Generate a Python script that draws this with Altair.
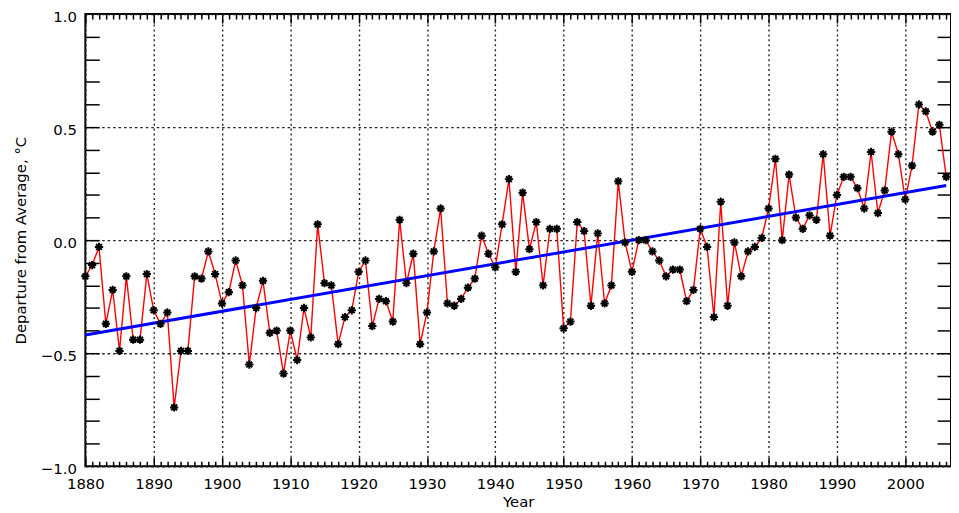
import altair as alt
import pandas as pd

# ---- data ----
years = list(range(1880, 2007))
anomaly = [
    -0.16, -0.11, -0.03, -0.37, -0.22, -0.49, -0.16, -0.44, -0.44, -0.15,   # 1880s
    -0.31, -0.37, -0.32, -0.74, -0.49, -0.49, -0.16, -0.17, -0.05, -0.15,   # 1890s
    -0.28, -0.23, -0.09, -0.20, -0.55, -0.30, -0.18, -0.41, -0.40, -0.59,   # 1900s
    -0.40, -0.53, -0.30, -0.43, 0.07, -0.19, -0.20, -0.46, -0.34, -0.31,    # 1910s
    -0.14, -0.09, -0.38, -0.26, -0.27, -0.36, 0.09, -0.19, -0.06, -0.46,    # 1920s
    -0.32, -0.05, 0.14, -0.28, -0.29, -0.26, -0.21, -0.17, 0.02, -0.06,     # 1930s
    -0.12, 0.07, 0.27, -0.14, 0.21, -0.04, 0.08, -0.20, 0.05, 0.05,         # 1940s
    -0.39, -0.36, 0.08, 0.04, -0.29, 0.03, -0.28, -0.20, 0.26, -0.01,       # 1950s
    -0.14, 0.00, 0.00, -0.05, -0.09, -0.16, -0.13, -0.13, -0.27, -0.22,     # 1960s
    0.05, -0.03, -0.34, 0.17, -0.29, -0.01, -0.16, -0.05, -0.03, 0.01,      # 1970s
    0.14, 0.36, 0.00, 0.29, 0.10, 0.05, 0.11, 0.09, 0.38, 0.02,             # 1980s
    0.20, 0.28, 0.28, 0.23, 0.14, 0.39, 0.12, 0.22, 0.48, 0.38,             # 1990s
    0.18, 0.33, 0.60, 0.57, 0.48, 0.51, 0.28,                               # 2000s
]

x_domain = [1880, 2006.7]
y_domain = [-1.0, 1.0]
decade_ticks = list(range(1880, 2001, 10))
year_ticks = list(range(1880, 2007))
y_label_ticks = [-1.0, -0.5, 0.0, 0.5, 1.0]
y_minor_ticks = [-0.9, -0.8, -0.7, -0.6, -0.5, -0.4, -0.3, -0.2, -0.1, 0.0,
                 0.1, 0.2, 0.3, 0.4, 0.5, 0.6, 0.7, 0.8, 0.9]

df = pd.DataFrame({"year": years, "anomaly": anomaly})

W, H = 873, 456
FONT = "DejaVu Sans"

xs = alt.Scale(domain=x_domain, nice=False, zero=False)
ys = alt.Scale(domain=y_domain, nice=False, zero=False)

x_tick_size = {"condition": {"test": "datum.value % 10 === 0", "value": 9}, "value": 5}

asterisk = "M-1,0L1,0M0,-1L0,1M-0.7,-0.7L0.7,0.7M-0.7,0.7L0.7,-0.7"

base = alt.Chart(df)

# Layer 1: red series, with labelled axes + dotted grid
line = base.mark_line(color="#ff0000", strokeWidth=1.4).encode(
    x=alt.X("year:Q", scale=xs,
            axis=alt.Axis(orient="bottom", values=decade_ticks, format="d",
                          grid=True, gridDash=[2, 3], gridColor="#222222", gridWidth=1.4,
                          ticks=False, tickSize=0, domain=False,
                          labelFont=FONT, labelFontSize=15, labelColor="black",
                          labelPadding=10, labelFlush=False,
                          title="Year", titleFont=FONT, titleFontSize=15,
                          titleFontWeight="normal", titleColor="black", titlePadding=4)),
    y=alt.Y("anomaly:Q", scale=ys,
            axis=alt.Axis(orient="left", values=y_label_ticks, format=".1f",
                          grid=True, gridDash=[2.5, 3], gridColor="#222222", gridWidth=1.4,
                          ticks=False, tickSize=0, domain=False,
                          labelFont=FONT, labelFontSize=15, labelColor="black",
                          labelPadding=9, labelFlush=False, labelOffset=2,
                          title="Departure from Average, \u00b0C", titleFont=FONT,
                          titleFontSize=15, titleFontWeight="normal", titleColor="black",
                          titlePadding=12)),
)

# Layer 2: asterisk markers, carrying inward ticks on bottom & left edges
points = base.mark_point(shape=asterisk, filled=False, stroke="black",
                         strokeWidth=2, size=70, opacity=1).encode(
    x=alt.X("year:Q", scale=xs,
            axis=alt.Axis(orient="top", offset=-H, values=year_ticks,
                          tickSize=x_tick_size, tickColor="black", tickWidth=1.5,
                          labels=False, domain=False, grid=False, title=None)),
    y=alt.Y("anomaly:Q", scale=ys,
            axis=alt.Axis(orient="right", offset=-W, values=y_minor_ticks,
                          tickSize=14, tickColor="black", tickWidth=1.5,
                          labels=False, domain=False, grid=False, title=None)),
)

# Layer 3: blue linear trend, carrying inward ticks on top & right edges
trend = base.transform_regression("year", "anomaly", extent=[1880, 2006]).mark_line(
    color="#0000ff", strokeWidth=3).encode(
    x=alt.X("year:Q", scale=xs,
            axis=alt.Axis(orient="bottom", offset=-H, values=year_ticks,
                          tickSize=x_tick_size, tickColor="black", tickWidth=1.5,
                          labels=False, domain=False, grid=False, title=None)),
    y=alt.Y("anomaly:Q", scale=ys,
            axis=alt.Axis(orient="left", offset=-W, values=y_minor_ticks,
                          tickSize=14, tickColor="black", tickWidth=1.5,
                          labels=False, domain=False, grid=False, title=None)),
)

chart = alt.layer(line, trend, points).resolve_axis(
    x="independent", y="independent"
).properties(
    width=W, height=H,
    autosize=alt.AutoSizeParams(type="none"),
    padding={"left": 78, "top": 4, "right": 0, "bottom": 43},
    background="white",
).configure_view(stroke="black", strokeWidth=2)

chart.save("out.html", embed_options={"renderer": "svg", "actions": False})
